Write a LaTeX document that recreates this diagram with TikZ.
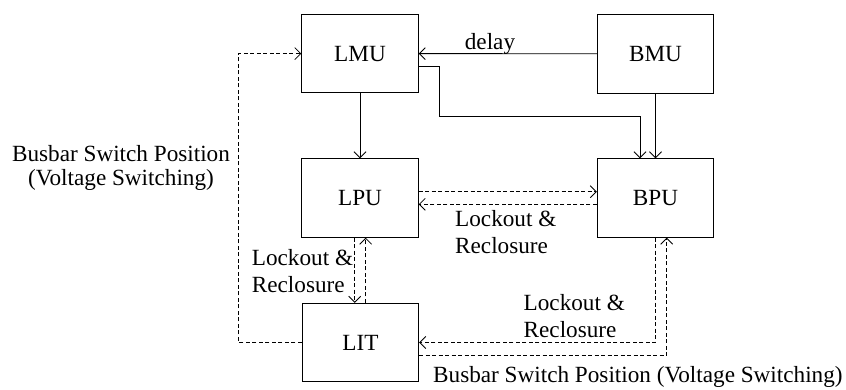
\documentclass[tikz,border=0pt]{standalone}
\usepackage{fontspec}
\setmainfont{Liberation Serif}
\usetikzlibrary{arrows.meta,calc}
\begin{document}
\begin{tikzpicture}[x=1pt,y=-1pt,
  font=\fontsize{23.2pt}{27.3pt}\selectfont,
  box/.style={draw, line width=0.9pt, minimum width=116.5pt, minimum height=78.5pt, inner sep=0pt},
  arr/.style={line width=0.9pt, -{Straight Barb[length=6pt,width=12pt]}},
  darr/.style={line width=0.8pt, dash pattern=on 4pt off 2.5pt, -{Straight Barb[length=6pt,width=12pt]}},
  lbl/.style={inner sep=0pt, align=left}]
\useasboundingbox (0,0) rectangle (846,389);

\node[box] (LMU) at (360,53.6) {LMU};
\node[box] (BMU) at (655.5,53.8) {BMU};
\node[box] (LPU) at (360,198) {LPU};
\node[box] (BPU) at (655.5,198) {BPU};
\node[box] (LIT) at (360.5,342.5) {LIT};

% solid connectors
\draw[arr] (BMU) -- (LMU);
\coordinate (m) at (640,116.7);
\draw[arr] ([yshift=-13.2pt]LMU.east) -- ++(21,0) |- (m) -- (m |- BPU.north);
\draw[arr] (BMU) -- (BPU);
\draw[arr] (LMU) -- (LPU);

% dashed connectors
\draw[darr] ([yshift=6.3pt]LPU.east) -- ([yshift=6.3pt]BPU.west);
\draw[darr] ([yshift=-6.3pt]BPU.west) -- ([yshift=-6.3pt]LPU.east);
\draw[darr] ([xshift=-5.3pt]LPU.south) -- ([xshift=-5.3pt]LPU.south |- LIT.north);
\draw[darr] ([xshift=5.7pt]LPU.south |- LIT.north) -- ([xshift=5.7pt]LPU.south);
\coordinate (w) at (238.5,0);
\draw[darr] (LIT.west) -| (w |- LMU.west) -- (LMU.west);
\draw[darr] (BPU.south) |- (LIT.east);
\draw[darr] ([yshift=-13.2pt]LIT.east) -| ([xshift=11.2pt]BPU.south);

% labels
\node[lbl, anchor=base] (tdelay) at (490,49) {delay};
\node[lbl, anchor=base west] (t1) at (455,253.3) {Lockout \&\\Reclosure};
\node[lbl, anchor=base west] (t2) at (251.7,292.3) {Lockout \&\\Reclosure};
\node[lbl, anchor=base west] (t3) at (523.5,337.3) {Lockout \&\\Reclosure};
\node[inner sep=0pt, align=center, anchor=base, font=\fontsize{23.2pt}{24pt}\selectfont] (t4) at (121,185) {Busbar Switch Position\\(Voltage Switching)};
\node[lbl, anchor=base west] (t5) at (433,382) {Busbar Switch Position (Voltage Switching)};
\end{tikzpicture}
\end{document}
